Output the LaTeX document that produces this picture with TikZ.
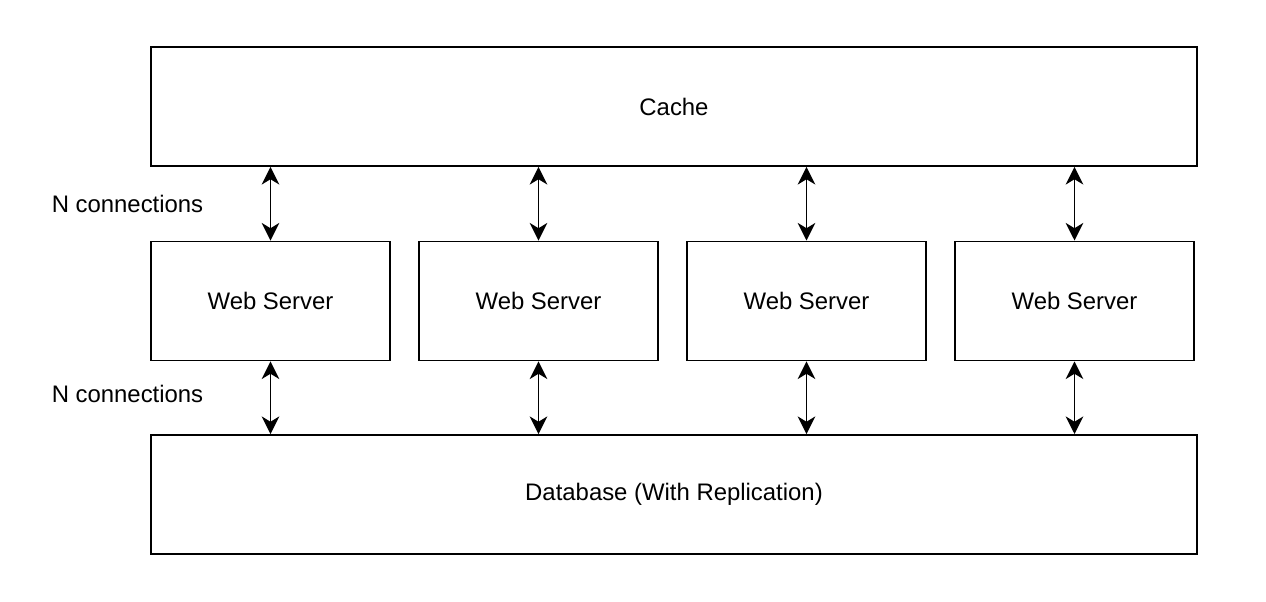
\documentclass[tikz,border=0pt]{standalone}
\usepackage{fontspec}
\setmainfont{Liberation Sans}
\usetikzlibrary{arrows.meta}
\tikzstyle{wide}=[rectangle,draw,line width=1.1pt,minimum width=20.92cm,minimum height=2.38cm,inner sep=0pt,font=\fontsize{13.6}{16}\selectfont]
\tikzstyle{srv}=[rectangle,draw,line width=1.1pt,minimum width=4.78cm,minimum height=2.38cm,inner sep=0pt,font=\fontsize{13.6}{16}\selectfont]
\tikzstyle{lbl}=[inner sep=0pt,font=\fontsize{13.6}{16}\selectfont]
\tikzstyle{conn}=[{Stealth[length=10pt,width=10pt,inset=3pt]}-{Stealth[length=10pt,width=10pt,inset=3pt]},line width=0.9pt]

\begin{document}
\begin{tikzpicture}
                    \useasboundingbox (0,0) rectangle (25.32,12.04);

                    \node (cache) at (13.48, 9.91) [wide] {Cache};

                    \node (ws1) at (5.41, 6.02) [srv] {Web Server};
                    \node (ws2) at (10.77, 6.02) [srv] {Web Server};
                    \node (ws3) at (16.13, 6.02) [srv] {Web Server};
                    \node (ws4) at (21.49, 6.02) [srv] {Web Server};

                    \node (db) at (13.48, 2.15) [wide] {Database (With Replication)};

                    \node (n1) at (2.55, 7.96) [lbl] {N connections};
                    \node (n2) at (2.55, 4.16) [lbl] {N connections};

                    \draw [conn] (ws1.north |- cache.south) -- (ws1.north);
                    \draw [conn] (ws2.north |- cache.south) -- (ws2.north);
                    \draw [conn] (ws3.north |- cache.south) -- (ws3.north);
                    \draw [conn] (ws4.north |- cache.south) -- (ws4.north);

                    \draw [conn] (ws1.south) -- (ws1.south |- db.north);
                    \draw [conn] (ws2.south) -- (ws2.south |- db.north);
                    \draw [conn] (ws3.south) -- (ws3.south |- db.north);
                    \draw [conn] (ws4.south) -- (ws4.south |- db.north);
                \end{tikzpicture}
\end{document}
